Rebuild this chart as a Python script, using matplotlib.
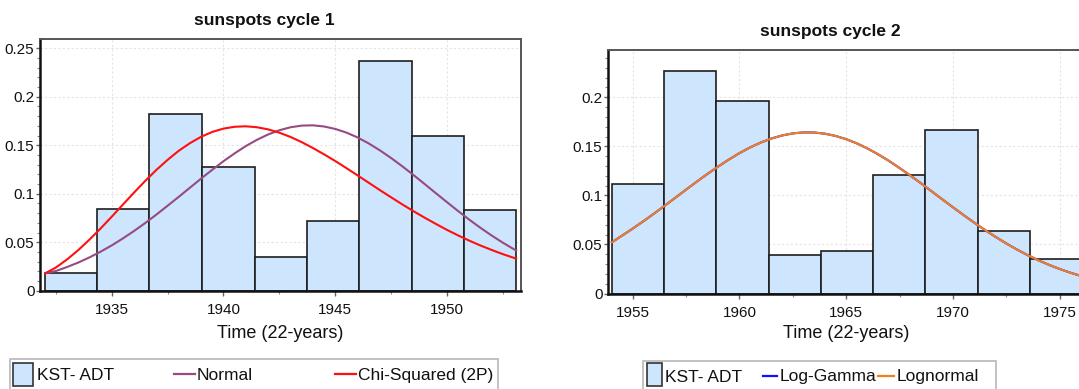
import matplotlib
matplotlib.use('Agg')
import numpy as np
import matplotlib.pyplot as plt
from matplotlib.patches import Rectangle
from matplotlib.lines import Line2D
from matplotlib.ticker import MultipleLocator, FuncFormatter, FixedLocator

W, H = 1079, 389
FONT = ['Liberation Sans', 'DejaVu Sans']
plt.rcParams['font.family'] = FONT

# ---------------- data ----------------
title1 = "sunspots cycle 1"
title2 = "sunspots cycle 2"
xlabel = "Time (22-years)"

c1_edges = [1932.03, 1934.36, 1936.68, 1939.05, 1941.40, 1943.74, 1946.08, 1948.45, 1950.78, 1953.10]
c1_freq = [0.0186, 0.0842, 0.1825, 0.1276, 0.0344, 0.0718, 0.2365, 0.1595, 0.0832]

c1_curve_x = [1932.03, 1932.5, 1933.0, 1933.5, 1934.0, 1934.5, 1935.0, 1935.5, 1936.0, 1936.5,
              1937.0, 1937.5, 1938.0, 1938.5, 1939.0, 1939.5, 1940.0, 1940.5, 1941.0, 1941.5,
              1942.0, 1942.5, 1943.0, 1943.5, 1944.0, 1944.5, 1945.0, 1945.5, 1946.0, 1946.5,
              1947.0, 1947.5, 1948.0, 1948.5, 1949.0, 1949.5, 1950.0, 1950.5, 1951.0, 1951.5,
              1952.0, 1952.5, 1953.0, 1953.10]
c1_normal = [0.0180, 0.0203, 0.0244, 0.0290, 0.0343, 0.0402, 0.0467, 0.0539, 0.0616, 0.0698,
             0.0785, 0.0876, 0.0968, 0.1062, 0.1156, 0.1247, 0.1335, 0.1416, 0.1491, 0.1556,
             0.1611, 0.1654, 0.1685, 0.1702, 0.1705, 0.1693, 0.1668, 0.1630, 0.1580, 0.1518,
             0.1447, 0.1368, 0.1283, 0.1193, 0.1100, 0.1006, 0.0913, 0.0821, 0.0732, 0.0648,
             0.0569, 0.0495, 0.0427, 0.0415]
c1_chi2 = [0.0180, 0.0239, 0.0322, 0.0418, 0.0526, 0.0641, 0.0763, 0.0888, 0.1012, 0.1132,
           0.1246, 0.1349, 0.1443, 0.1521, 0.1587, 0.1637, 0.1671, 0.1690, 0.1695, 0.1685,
           0.1663, 0.1629, 0.1585, 0.1532, 0.1471, 0.1406, 0.1337, 0.1264, 0.1189, 0.1113,
           0.1037, 0.0963, 0.0890, 0.0820, 0.0753, 0.0689, 0.0627, 0.0570, 0.0516, 0.0466,
           0.0420, 0.0377, 0.0338, 0.0330]

c2_edges = [1954.02, 1956.47, 1958.89, 1961.37, 1963.81, 1966.27, 1968.70, 1971.19, 1973.61, 1976.06]
c2_freq = [0.1113, 0.2265, 0.1960, 0.0390, 0.0436, 0.1205, 0.1667, 0.0640, 0.0349]

c2_curve_x = [1954.02, 1954.5, 1955.0, 1955.5, 1956.0, 1956.5, 1957.0, 1957.5, 1958.0, 1958.5,
              1959.0, 1959.5, 1960.0, 1960.5, 1961.0, 1961.5, 1962.0, 1962.5, 1963.0, 1963.5,
              1964.0, 1964.5, 1965.0, 1965.5, 1966.0, 1966.5, 1967.0, 1967.5, 1968.0, 1968.5,
              1969.0, 1969.5, 1970.0, 1970.5, 1971.0, 1971.5, 1972.0, 1972.5, 1973.0, 1973.5,
              1974.0, 1974.5, 1975.0, 1975.5, 1976.0, 1976.06]
c2_loggamma = [0.0522, 0.0590, 0.0662, 0.0737, 0.0815, 0.0895, 0.0977, 0.1059, 0.1140, 0.1219,
               0.1294, 0.1365, 0.1431, 0.1489, 0.1539, 0.1580, 0.1611, 0.1632, 0.1642, 0.1641,
               0.1629, 0.1606, 0.1573, 0.1530, 0.1478, 0.1418, 0.1352, 0.1279, 0.1203, 0.1124,
               0.1042, 0.0960, 0.0879, 0.0799, 0.0722, 0.0647, 0.0577, 0.0510, 0.0448, 0.0391,
               0.0339, 0.0292, 0.0250, 0.0212, 0.0179, 0.0176]
c2_lognormal = [0.0522, 0.0590, 0.0662, 0.0737, 0.0815, 0.0895, 0.0977, 0.1059, 0.1140, 0.1219,
                0.1294, 0.1365, 0.1431, 0.1489, 0.1539, 0.1580, 0.1611, 0.1632, 0.1642, 0.1641,
                0.1629, 0.1606, 0.1573, 0.1530, 0.1478, 0.1418, 0.1352, 0.1279, 0.1203, 0.1124,
                0.1042, 0.0960, 0.0879, 0.0799, 0.0722, 0.0647, 0.0577, 0.0510, 0.0448, 0.0391,
                0.0339, 0.0292, 0.0250, 0.0212, 0.0179, 0.0176]

c1_xticks = [1935, 1940, 1945, 1950]
c2_xticks = [1955, 1960, 1965, 1970, 1975]

legend1_labels = ["KST- ADT", "Normal", "Chi-Squared (2P)"]
legend2_labels = ["KST- ADT", "Log-Gamma", "Lognormal"]

# ---------------- style ----------------
BAR_FC = '#cde5fd'
BAR_EC = '#1e1e1e'
C_NORMAL = '#964b82'
C_CHI = '#ff1010'
C_LG = '#1010ff'
C_LN = '#f07f22'
TICK_FS = 11
LABEL_FS = 13
LEG_FS = 12.5
TITLE_FS = 12.5

fig = plt.figure(figsize=(W / 100, H / 100), dpi=100)
fig.patch.set_facecolor('white')


def px_rect(l, t, r, b):
    return [l / W, 1 - b / H, (r - l) / W, (b - t) / H]


def style_axes(ax, xticks, xlim, ylim):
    ax.set_xlim(*xlim)
    ax.set_ylim(*ylim)
    ax.xaxis.set_major_locator(FixedLocator(xticks))
    ax.xaxis.set_minor_locator(MultipleLocator(2.5))
    ax.yaxis.set_major_locator(MultipleLocator(0.05))
    ax.yaxis.set_minor_locator(MultipleLocator(0.01))
    ax.yaxis.set_major_formatter(FuncFormatter(lambda v, p: '%g' % round(v, 4)))
    ax.xaxis.set_major_formatter(FuncFormatter(lambda v, p: '%d' % round(v)))
    ax.grid(True, which='major', color='#e4e4e4', linestyle=(0, (2, 2)), linewidth=0.8)
    ax.set_axisbelow(True)
    for s in ['left', 'bottom']:
        ax.spines[s].set_color('#111111')
        ax.spines[s].set_linewidth(1.8)
    for s in ['top', 'right']:
        ax.spines[s].set_color('#555555')
        ax.spines[s].set_linewidth(1.4)
    ax.tick_params(which='major', direction='out', length=3.5, width=1, color='#666666',
                   labelsize=TICK_FS, labelcolor='#111111')
    ax.tick_params(axis='x', which='major', pad=5.7)
    ax.tick_params(axis='y', which='major', pad=1.0, length=3)
    ax.tick_params(which='minor', direction='out', length=2, width=0.8, color='#888888')
    ax.set_xlabel(xlabel, fontsize=LABEL_FS, color='#111111')


def draw_hist(ax, edges, freq):
    e = np.asarray(edges)
    ax.bar(e[:-1], freq, width=np.diff(e), align='edge', color=BAR_FC,
           edgecolor=BAR_EC, linewidth=1.2, zorder=2)


# ---------- panel 1 ----------
ax1 = fig.add_axes(px_rect(40, 38.7, 520.7, 290.7))
draw_hist(ax1, c1_edges, c1_freq)
ax1.plot(c1_curve_x, c1_normal, color=C_NORMAL, lw=1.5, zorder=3)
ax1.plot(c1_curve_x, c1_chi2, color=C_CHI, lw=1.5, zorder=4)
style_axes(ax1, c1_xticks, (1931.79, 1953.30), (0, 0.2598))
ax1.xaxis.set_label_coords(0.5, (290.7 - 333) / 252.0)
ax1.xaxis.label.set_va('center')

# ---------- panel 2 ----------
ax2 = fig.add_axes(px_rect(608, 50, 1084, 293.5))
draw_hist(ax2, c2_edges, c2_freq)
ax2.plot(c2_curve_x, c2_loggamma, color=C_LG, lw=1.5, zorder=3)
ax2.plot(c2_curve_x, c2_lognormal, color=C_LN, lw=1.5, zorder=4)
style_axes(ax2, c2_xticks, (1953.84, 1976.14), (0, 0.2482))
ax2.xaxis.set_label_coords(0.5, (293.5 - 334) / 243.5)
ax2.xaxis.label.set_va('center')

# ---------- titles ----------
fig.text(264 / W, 1 - 20.7 / H, title1, ha='center', va='center', fontsize=TITLE_FS,
         fontweight='bold', color='#111111')
fig.text(830 / W, 1 - 31.7 / H, title2, ha='center', va='center', fontsize=TITLE_FS,
         fontweight='bold', color='#111111')


# ---------- legends (fixed-width entries) ----------
def fx(x):
    return x / W


def fy(y):
    return 1 - y / H


def draw_legend(box, labels, kinds, colors, xs, line_y, base_y):
    l, t, r, b = box
    fig.add_artist(Rectangle((fx(l), fy(b)), (r - l) / W, (b - t) / H, transform=fig.transFigure,
                             facecolor='white', edgecolor='#b8b8b8', linewidth=1.2))
    for lab, kind, col, (h0, h1, tx) in zip(labels, kinds, colors, xs):
        if kind == 'patch':
            fig.add_artist(Rectangle((fx(h0), fy(386)), (h1 - h0) / W, (386 - 363.3) / H,
                                     transform=fig.transFigure, facecolor=BAR_FC,
                                     edgecolor='#333333', linewidth=1.2))
        else:
            fig.add_artist(Line2D([fx(h0), fx(h1)], [fy(line_y), fy(line_y)],
                                  transform=fig.transFigure, color=col, lw=1.6))
        fig.text(fx(tx), fy(base_y), lab, ha='left', va='baseline', fontsize=LEG_FS,
                 color='#111111')


draw_legend((10, 359, 497.7, 400), legend1_labels, ['patch', 'line', 'line'],
            [BAR_FC, C_NORMAL, C_CHI],
            [(13.3, 33.3, 37), (174, 195, 197), (335, 356, 358.3)], 374.3, 379.8)
draw_legend((643.3, 360.7, 995.7, 400), legend2_labels, ['patch', 'line', 'line'],
            [BAR_FC, C_LG, C_LN],
            [(646.7, 661.7, 665), (762.7, 777.3, 779.5), (878, 894, 896.3)], 375.7, 381.5)

fig.savefig('out.png', dpi=100)
